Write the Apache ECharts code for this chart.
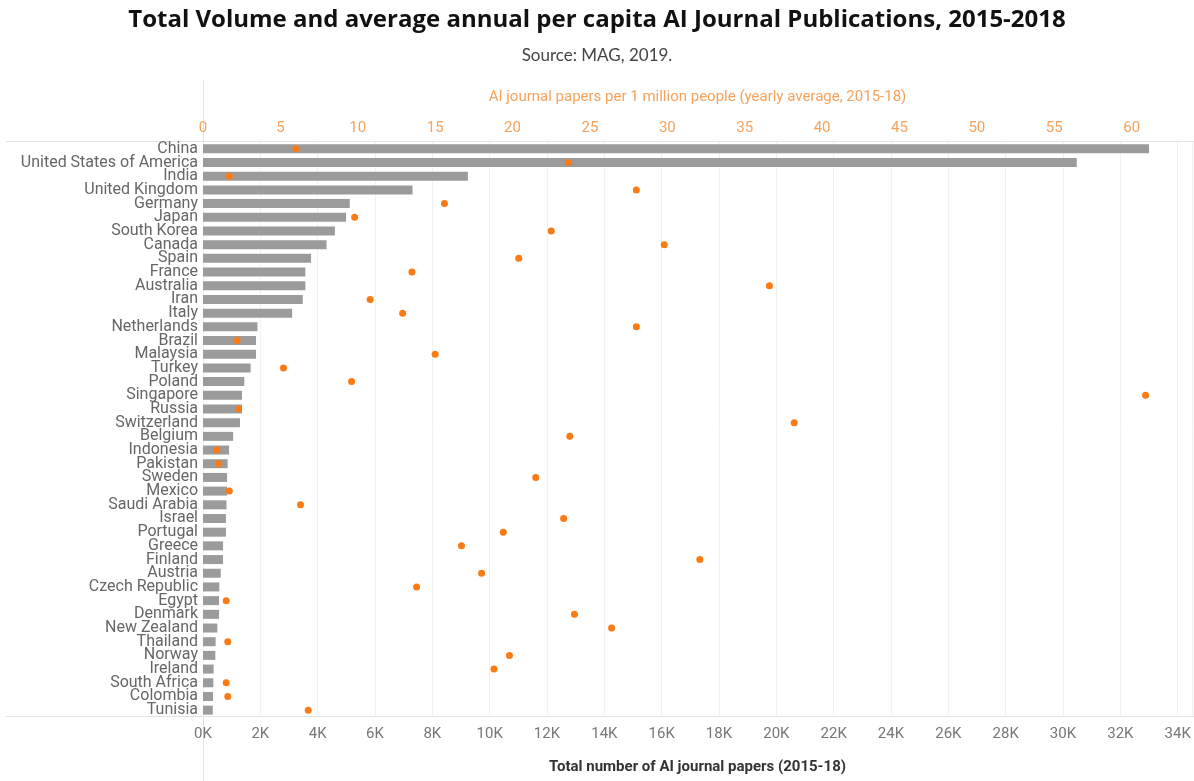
<!DOCTYPE html>
<html>
<head>
<meta charset="utf-8">
<title>AI Journal Publications</title>
<script src="https://cdn.jsdelivr.net/npm/echarts@6/dist/echarts.min.js"></script>
<style>
  html, body { margin: 0; padding: 0; background: #fff; }
  #main { width: 1194px; height: 781px; }
</style>
</head>
<body>
<div id="main"></div>
<script>
// 国家 / 地区
var countries = [
    'China', 'United States of America', 'India', 'United Kingdom', 'Germany', 'Japan',
    'South Korea', 'Canada', 'Spain', 'France', 'Australia', 'Iran', 'Italy', 'Netherlands',
    'Brazil', 'Malaysia', 'Turkey', 'Poland', 'Singapore', 'Russia', 'Switzerland', 'Belgium',
    'Indonesia', 'Pakistan', 'Sweden', 'Mexico', 'Saudi Arabia', 'Israel', 'Portugal', 'Greece',
    'Finland', 'Austria', 'Czech Republic', 'Egypt', 'Denmark', 'New Zealand', 'Thailand',
    'Norway', 'Ireland', 'South Africa', 'Colombia', 'Tunisia'
];

// 论文总数 (2015-18)
var totalPapers = [
    33000, 30480, 9240, 7310, 5120, 4990,
    4600, 4310, 3770, 3570, 3570, 3480, 3110, 1900,
    1850, 1850, 1660, 1440, 1360, 1360, 1290, 1050,
    910, 860, 840, 840, 820, 800, 800, 700,
    700, 620, 570, 560, 560, 500, 440,
    430, 370, 360, 350, 340
];

// 每百万人论文数 (年均)
var perCapita = [
    6.0, 23.6, 1.7, 28.0, 15.6, 9.8,
    22.5, 29.8, 20.4, 13.5, 36.6, 10.8, 12.9, 28.0,
    2.2, 15.0, 5.2, 9.6, 60.9, 2.3, 38.2, 23.7,
    0.9, 1.0, 21.5, 1.7, 6.3, 23.3, 19.4, 16.7,
    32.1, 18.0, 13.8, 1.5, 24.0, 26.4, 1.6,
    19.8, 18.8, 1.5, 1.6, 6.8
];

var labelFont = "Roboto, sans-serif";
var orange = '#fa7a14';
var lightOrange = '#f4a25c';

var myChart = echarts.init(document.getElementById('main'));

var option = {
    animation: false,
    textStyle: { fontFamily: labelFont },
    title: [
        {
            text: 'Total Volume and average annual per capita AI Journal Publications, 2015-2018',
            left: 'center',
            top: 3,
            textStyle: { fontFamily: 'Open Sans', fontWeight: 'bold', fontSize: 24, color: '#111' }
        },
        {
            text: 'Source: MAG, 2019.',
            left: 'center',
            top: 42,
            textStyle: { fontFamily: 'Lato', fontWeight: 'normal', fontSize: 17, color: '#444' }
        }
    ],
    grid: { left: 203, right: 2, top: 142, bottom: 64 },
    xAxis: [
        {
            type: 'value',
            position: 'bottom',
            min: 0,
            max: 34500,
            interval: 2000,
            name: 'Total number of AI journal papers (2015-18)',
            nameLocation: 'middle',
            nameGap: 43,
            nameTextStyle: { fontFamily: labelFont, fontSize: 15, fontWeight: 'bold', color: '#333' },
            axisLine: { show: false },
            axisTick: { show: false },
            axisLabel: {
                color: '#777',
                fontSize: 15,
                margin: 10,
                showMaxLabel: false,
                formatter: function (v) { return (v / 1000) + 'K'; }
            },
            splitLine: { show: true, lineStyle: { color: '#f1f1f1' } }
        },
        {
            type: 'value',
            position: 'top',
            min: 0,
            max: 63.9,
            interval: 5,
            name: 'AI journal papers per 1 million people (yearly average, 2015-18)',
            nameLocation: 'middle',
            nameGap: 37,
            nameTextStyle: { fontFamily: labelFont, fontSize: 15, color: lightOrange },
            axisLine: { show: false },
            axisTick: { show: false },
            axisLabel: { color: lightOrange, fontSize: 15, margin: 6, showMaxLabel: false },
            splitLine: { show: false }
        }
    ],
    yAxis: {
        type: 'category',
        inverse: true,
        data: countries,
        axisLine: { show: false },
        axisTick: { show: false },
        axisLabel: { color: '#666', fontSize: 16, margin: 5, interval: 0, hideOverlap: false }
    },
    graphic: [
        // 分隔线
        { type: 'line', shape: { x1: 203.5, y1: 80, x2: 203.5, y2: 781 }, style: { stroke: '#e2e2e2', lineWidth: 1 } },
        { type: 'line', shape: { x1: 6, y1: 141.5, x2: 1194, y2: 141.5 }, style: { stroke: '#e2e2e2', lineWidth: 1 } },
        { type: 'line', shape: { x1: 6, y1: 716.5, x2: 1194, y2: 716.5 }, style: { stroke: '#e2e2e2', lineWidth: 1 } }
    ],
    series: [
        {
            type: 'bar',
            xAxisIndex: 0,
            data: totalPapers,
            barWidth: 9,
            itemStyle: { color: '#9b9b9b' }
        },
        {
            type: 'scatter',
            xAxisIndex: 1,
            data: perCapita,
            symbolSize: 7,
            itemStyle: { color: orange, opacity: 1 },
            z: 5
        }
    ]
};

myChart.setOption(option, true);
</script>
</body>
</html>
